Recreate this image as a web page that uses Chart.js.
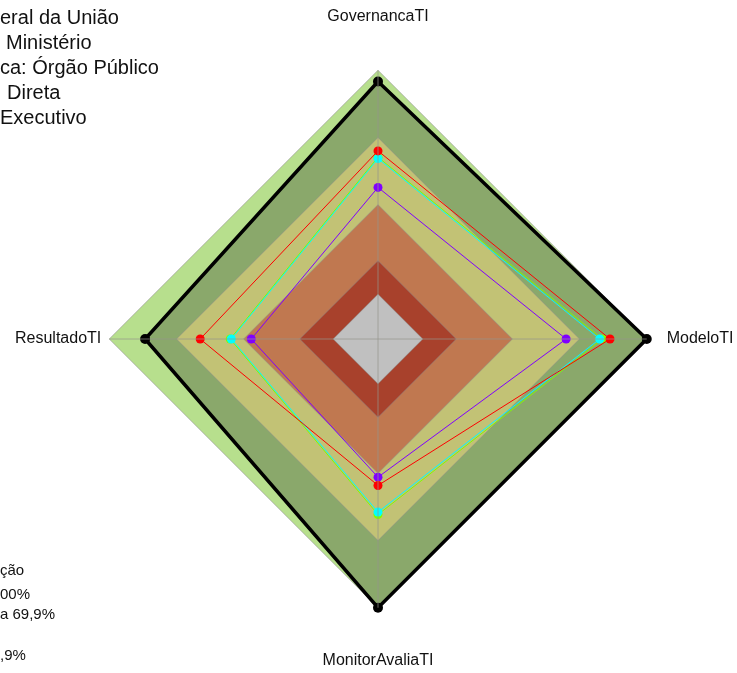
<!DOCTYPE html>
<html>
<head>
<meta charset="utf-8">
<script src="https://cdn.jsdelivr.net/npm/chart.js@4/dist/chart.umd.min.js"></script>
<style>
  body{margin:0;background:#fff;overflow:hidden;}
  #wrap{position:relative;width:737px;height:673px;overflow:hidden;}
  #grafico{position:absolute;left:1px;top:0;}
  .txt{position:absolute;white-space:nowrap;font-family:"Liberation Sans",Arial,sans-serif;color:#111;}
  .topo{font-size:20px;line-height:25px;}
  .leg{font-size:15px;line-height:20px;}
</style>
</head>
<body>
<div id="wrap">
  <canvas id="grafico" width="737" height="673"></canvas>
  <div class="txt topo" style="left:0px;top:5px">eral da União</div>
  <div class="txt topo" style="left:6px;top:30px">Ministério</div>
  <div class="txt topo" style="left:0px;top:55px">ca: Órgão Público</div>
  <div class="txt topo" style="left:7px;top:80px">Direta</div>
  <div class="txt topo" style="left:0px;top:105px">Executivo</div>
  <div class="txt leg" style="left:0px;top:560px">ção</div>
  <div class="txt leg" style="left:0px;top:584px">00%</div>
  <div class="txt leg" style="left:0px;top:604px">a 69,9%</div>
  <div class="txt leg" style="left:0px;top:645px">,9%</div>
</div>
<script>
var eixos = ["GovernancaTI", "ModeloTI", "MonitorAvaliaTI", "ResultadoTI"];

// faixas de classificacao (mesmo valor nos 4 eixos)
var faixaAprimorado = [100, 100, 100, 100];
var faixaIntermediario = [70, 70, 70, 70];
var faixaIniciando = [40, 40, 40, 40];
var faixaInexpressivo = [15, 15, 15, 15];
var faixaZero = [0, 0, 0, 0];

// series
var serieMaximo = [95, 100, 100, 84];
var serieVermelha = [64, 83.6, 45.4, 59.4];
var serieCiano = [60.6, 79, 57.3, 45.5];
var serieVerde = [61.2, 80.2, 58.4, 46];
var serieRoxa = [47.7, 64, 41.7, 36.6];

var escalaMin = -20;
var escalaMax = 100;

function faixa(valores, cor)
{
  return {
    data: valores,
    backgroundColor: cor,
    borderColor: "rgba(140,140,140,0.55)",
    borderWidth: 1,
    pointRadius: 0,
    fill: "start"
  };
}

function serie(valores, cor)
{
  return {
    data: valores,
    borderColor: cor,
    backgroundColor: cor,
    borderWidth: 1,
    pointRadius: 4.5,
    pointBorderWidth: 0,
    pointBackgroundColor: cor,
    fill: false
  };
}

// o primeiro dataset fica por cima
var datasets = [
  serie(serieVermelha, "#ff0000"),
  serie(serieRoxa, "#8000ff"),
  serie(serieCiano, "#00ffff"),
  serie(serieVerde, "#80ff00"),
  faixa(faixaZero, "#c0c0c0"),
  faixa(faixaInexpressivo, "#a8412c"),
  faixa(faixaIniciando, "#c07850"),
  faixa(faixaIntermediario, "#c2c275"),
  {
    data: serieMaximo,
    borderColor: "#000",
    backgroundColor: "#8aa86b",
    borderWidth: 3.5,
    pointRadius: 5,
    pointBorderWidth: 0,
    pointBackgroundColor: "#000",
    fill: "start"
  },
  faixa(faixaAprimorado, "#b7df8d")
];

// distancia de cada rotulo ate o grafico
var distRotulo = [44, 20, 43, 8];

new Chart(document.getElementById("grafico"), {
  type: "radar",
  data: {
    labels: eixos,
    datasets: datasets
  },
  options: {
    responsive: false,
    animation: false,
    layout: { padding: { left: 10, top: 6 } },
    elements: { line: { tension: 0 } },
    plugins: {
      legend: { display: false },
      tooltip: { enabled: false }
    },
    scales: {
      r: {
        min: escalaMin,
        max: escalaMax,
        ticks: { display: false },
        grid: { display: false, z: 1 },
        angleLines: { display: true, color: "rgba(150,150,140,0.7)", lineWidth: 1 },
        pointLabels: {
          color: "#111",
          font: { family: "'Liberation Sans', Arial, sans-serif", size: 16 },
          padding: function(ctx) { return distRotulo[ctx.index]; }
        }
      }
    }
  }
});
</script>
</body>
</html>
